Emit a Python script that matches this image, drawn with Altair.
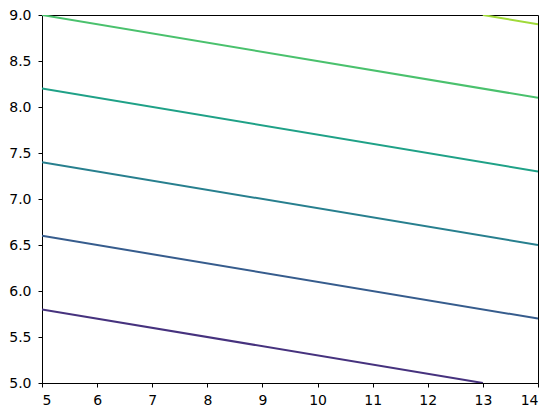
import altair as alt
import pandas as pd

# contour lines (level index, x points, y points)
levels = [1, 2, 3, 4, 5, 6]
line_x = [[5, 13], [5, 14], [5, 14], [5, 14], [5, 14], [13, 14]]
line_y = [[5.8, 5.0], [6.6, 5.7], [7.4, 6.5], [8.2, 7.3], [9.0, 8.1], [9.0, 8.9]]
level_colors = ["#46327e", "#365c8d", "#277f8e", "#1fa187", "#4ac16d", "#a0da39"]

x_ticks = list(range(5, 15))
y_ticks = [5.0, 5.5, 6.0, 6.5, 7.0, 7.5, 8.0, 8.5, 9.0]

rows = []
for lv, xs, ys in zip(levels, line_x, line_y):
    for i, (xv, yv) in enumerate(zip(xs, ys)):
        rows.append({"level": lv, "x": xv, "y": yv, "order": i})
df = pd.DataFrame(rows)

chart = alt.Chart(df).mark_line(strokeWidth=2, clip=True).encode(
    x=alt.X("x:Q", scale=alt.Scale(domain=[5, 14], nice=False, zero=False),
            axis=alt.Axis(values=x_ticks, title=None, grid=False, format="d", labelPadding=6)),
    y=alt.Y("y:Q", scale=alt.Scale(domain=[5, 9], nice=False, zero=False),
            axis=alt.Axis(values=y_ticks, title=None, grid=False, format=".1f", labelPadding=7)),
    color=alt.Color("level:N", scale=alt.Scale(domain=levels, range=level_colors), legend=None),
    detail="level:N",
    order="order:Q",
).properties(
    width=496, height=368,
    autosize=alt.AutoSizeParams(type="none"),
    padding={"left": 34, "top": 7, "right": 10, "bottom": 27},
).configure_view(
    stroke="black", strokeWidth=1
).configure_axis(
    domainColor="black", tickColor="black", tickSize=4, labelColor="black",
    labelFont="DejaVu Sans", labelFontSize=14, domainWidth=1,
)

chart.save("out.html", embed_options={"renderer": "svg", "actions": False})
